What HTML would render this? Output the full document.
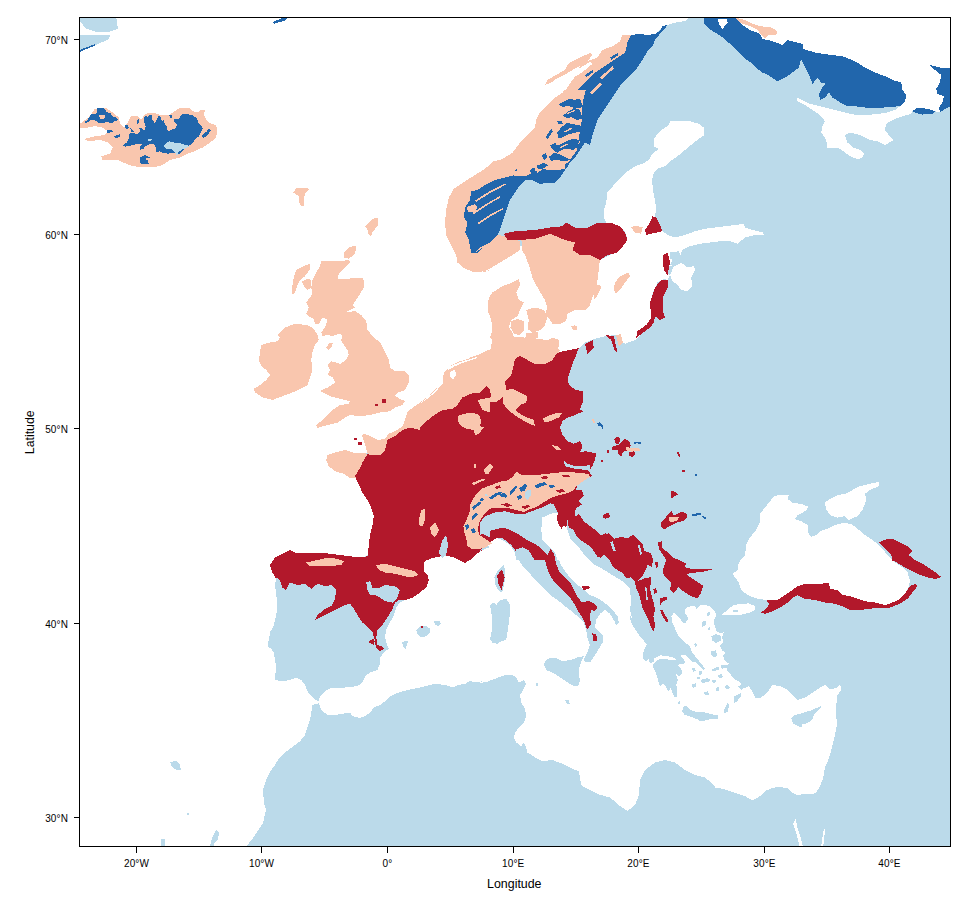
<!DOCTYPE html>
<html><head><meta charset="utf-8"><title>Map</title>
<style>
html,body{margin:0;padding:0;background:#fff;}
body{width:980px;height:900px;overflow:hidden;font-family:"Liberation Sans",sans-serif;}
svg{display:block}
text{font-family:"Liberation Sans",sans-serif;fill:#000}
</style></head><body>
<svg width="980" height="900" viewBox="0 0 980 900" shape-rendering="crispEdges">
<rect width="980" height="900" fill="#fff"/>
<defs><clipPath id="c"><rect x="79.5" y="17.5" width="871" height="829"/></clipPath></defs>
<g clip-path="url(#c)">
<path fill="#BBDAEA" d="M79,17 951,17 951,847 79,847Z"/>
<path fill="#FFFFFF" d="M79,17 690,17 685,21 676,22.5 663,26 650,40 615,72 597,100 570,135 540,172 480,200 475,235 500,247 522,246 532,262 545,292 552,315 556,319 562,322 562,352 545,366 530,369 520,364 500,364 485,361 470,361 473.8,358 457.5,362 450.5,367.5 448,373 445,383 440,393 432.5,400.5 425.5,405.5 446.2,381.2 440,388.8 432.5,396.2 422.5,403.8 413.8,410 410,413.8 407.5,421.2 405,427.5 397.5,432.5 391.2,435.5 387.5,440 380,441.5 370,438.8 365.5,440 367.5,445 368.8,453 362.5,454 352.5,453.5 345,451.5 335,453.5 328.5,456 327.5,460 330,465.8 335.5,470.5 344,473 350,476.5 356,475.5 359.5,485 363.5,492.5 368.5,500 372.2,507.5 374.8,516.2 373.5,525 371,535 369.8,545 368.5,555 360,558.5 350,557.2 340,556 330,554.8 320,553.5 307.5,553.5 295,553.5 290,551.5 282.5,554.8 275.5,558.5 271,565 273,572.5 275,577.5 276.2,577.5 275,585 276.2,595 277.5,605 276.2,615 273.8,625 270,632.5 268.8,640 267.5,646.2 271.2,648.8 273.8,652.5 275,660 276.2,667.5 275,676.2 275,680 282.5,681.2 290,680 296.2,677.5 301.2,680 305,685 307.5,691.2 311.2,696.2 315,700 318.8,701.2 320,703 312.5,705 311.2,712.5 310,720 307.5,727.5 305,735 300,741.2 295,745 290,748.8 285,752.5 280,757.5 276.2,762.5 275,765 270,772 266,780 263,790 264,803 266,810 263,823 253,838 246,847 79,847Z"/>
<path fill="#FFFFFF" d="M735,17 742.5,25 750,30 760,33.8 762.5,38.8 772.5,41.2 782.5,45 787.5,40 795,42 802.5,43.8 802.5,48.8 815,52.5 827.5,54.5 842.5,56.2 855,61.2 865,67.5 875,72.5 885,76.2 892.5,80 901.2,82.5 902.5,90 906.2,95 905,101.2 900,106.2 895,110 885,113 872.5,114.5 860,115.5 850,113.8 840,111.2 830,108.8 820,106.2 810,103.8 802.5,100 796.2,97.5 797.5,101.2 805,105 812.5,110 820,115 825,121.2 822.5,126.2 821.2,132.5 826.2,140 827.5,147.5 835,147.5 840,148.8 845,152.5 850,156.2 857.5,159.2 862.5,157.5 863.8,153.8 860,150 852.5,147.5 847.5,142.5 845,135 850,132.5 860,135 870,140 877.5,141.2 885,145 893.8,140 888.8,135 885,130 886.2,123.8 892.5,120 902.5,116.2 911.2,113.8 912.5,111.2 916.2,113 922.5,114.5 932.5,113.8 935,111.2 940,112.5 938.8,107.5 942.5,102.5 943.8,96.2 937.5,93.8 936.2,88.8 940,82.5 941.2,75 935,70 929.5,65 935,66.2 942.5,68 951.5,68 951.5,17Z"/>
<path fill="#FFFFFF" d="M653.8,138.8 660,131.2 668.8,125 670,121.2 680,121.2 690,121.2 698.8,123.8 703.8,127.5 704.5,135 698.8,138.8 692.5,143.8 685,150 677.5,156.2 670,161.2 665,166.2 657.5,168.8 653.8,172.5 652,180 653,190 655,200 656.2,208.8 655,216.2 660,225 662.5,231.2 667.5,235 675,237.5 685,235 695,231.2 705,228.8 715,227.5 725,226.2 735,225 743.8,223.8 745,227.5 752.5,230 762.5,232.5 765,235.5 755,235 745,237.5 737.5,243.8 730,241.2 720,241.2 710,242.5 700,243.8 690,246.2 682.5,250 680,256.2 672.5,260 670,265 675,266.2 681.2,262.5 687.5,267.5 693.8,266.2 695,270 691.2,277.5 692.5,286.2 687.5,291.2 681.2,290 677.5,285 672.5,281.2 670,275 667.5,280 663.8,278.8 657.5,282.5 653.8,290 650,302.5 651.2,315 653.8,322.5 650,327.5 642.5,332.5 635,340 625,343.8 620,340 615,335 605,336.2 595,338.8 585,342.5 577.5,350 570,353.8 560,352.5 557.5,353.8 545,360 532.5,363.8 526.2,358.8 532.5,347.5 542.5,342.5 552.5,337.5 560,325 568,312.5 575,308.8 585,309.5 590,305 592.5,297.5 596.2,290 597.5,280 597.5,270 600,260 610,255 620,250 625,242.5 625,245 627.5,237.5 623.8,230 617.5,225 606.2,222.5 603.8,217.5 603.8,210 606.2,202.5 607.5,192.5 613.8,185 621.2,177.5 627.5,171.2 635,166.2 642.5,163.8 648.8,160 652.5,153.8 658.8,148.8 653.8,146.2Z"/>
<path fill="#FFFFFF" d="M773.8,496.2 781.2,494.5 788.8,495 787.5,498.8 792.5,502.5 802.5,504.5 808.8,507 805,511.2 797.5,515.5 794.5,518.8 801.2,521.2 807.5,525 808,532.5 811.2,537 816.2,535 820,531.2 827.5,528.8 835,525 842.5,523 851.2,523.8 857.5,528.8 865,535 872.5,540 880,546.2 887.5,555 895,562.5 902.5,567.5 907.5,572.5 910,580 908.8,586.2 905,593.8 900,598.8 892.5,602.5 885,605 875,602.5 865,601.2 857.5,598.8 850,596.2 842.5,595 837.5,590 830,588.8 828.8,583.8 820,585 810,583.8 800,586.2 792.5,590 785,595 777.5,600 767.5,600 757.5,598.8 747.5,595 741.2,590 738.8,582.5 735,577.5 732.5,573.8 737.5,570 738.8,562.5 745,555 746.2,545 750,537.5 756.2,530 760,522.5 760,513.8 765,507.5 770,501.2Z"/>
<path fill="#FFFFFF" d="M825,502.5 830,498.8 837.5,495 845,493.8 852.5,490 860,486.2 870,483.8 878.8,482 878.8,486.2 870,490 865,493.8 866.2,500 862.5,510 857.5,516.2 852.5,518 848.8,520 845,516.2 837.5,517.5 831.2,515.5 826.2,510Z"/>
<path fill="#FFFFFF" d="M722,614.5 726.1,611.2 732.7,605.5 739.2,603.9 749,603.4 755.5,606.3 754.7,610.4 749,612.9 742.4,614.5 734.3,615.3 727.8,614.5Z"/>
<path fill="#FFFFFF" d="M793,823.8 795.5,819.2 797.5,827.5 800,835 803,847 799.5,847 797.5,837.5 795,828.8Z"/>
<path fill="#FFFFFF" d="M823.8,829.2 825.2,829.2 823.2,847 821,847Z"/>
<path fill="#FFFFFF" d="M318.8,701.2 320,696.2 325,691.2 331.2,688 337.5,687.5 345,687.5 352.5,687 360,685 363.8,680 365,676.2 370,672.5 377.5,670 380,663.8 380,657.5 383.8,652.5 388.8,648.8 386.2,642.5 385,636.2 386.2,630 390,622.5 393.8,615 396.2,607.5 400,602.5 405,600 412.5,597.5 420,592.5 426.2,587.5 428.8,580 427.5,575 423.8,571.2 423.8,563.8 425,561.2 430,558.8 437.5,557 445,555.5 452.5,557 460,560.5 465,563 470,560 475,555 482.5,550 490,547 485,545 495,537.5 502.5,540 510,545 515,552.5 516.2,560 518.8,560 523.8,567.5 530,573.8 536.2,581.2 542.5,587.5 550,595 557.5,600 565,606.2 570,610 577.5,616.2 583.8,622.5 586.2,630 587.5,637.5 590,645 587.5,652.5 583.8,658.8 585,662 590,662.5 595,655 598.8,648.8 602.5,642.5 602.5,635 598.8,631.2 595,627.5 596.2,620 600,613.8 605,610 610,613.8 613.8,620 616.2,625 618.8,622.5 617.5,616.2 613.8,611.2 608.8,606.2 602.5,601.2 596.2,597.5 590,595 582.5,588.8 576.2,583.8 570,577.5 565,571.2 561.2,565 558.8,560 557.5,560 555,552.5 547.5,545 542.5,540 541.2,530 542.5,517.5 550,513.8 557.5,512.5 558.8,522.5 566.2,527.5 567.5,520 567,528.8 570.5,538.8 578,546.2 585.5,556.2 593,563.8 601.2,568 612,575 623,581.5 630,588.8 630,591.2 631.2,600 630,610 632.5,620 629.8,614.5 630.6,621 633.1,625.9 636.3,630.8 639.6,635.7 643.7,640.6 646.9,644.7 644.5,648.8 642.9,653.7 642.9,658.6 646.1,661.8 648.6,659.4 650.2,663.5 653.5,661.8 654.3,658.6 660.8,655.3 667.3,656.1 673.9,657.8 676.3,660.2 672.2,660.2 667.3,659.4 660.8,658.6 655.1,661.8 652.7,665.1 654.3,670 656.7,674.9 658.4,681.4 660,686.3 663.3,683.9 665.7,686.3 668.2,692 670.6,688 672.2,692 674.7,697.8 677.1,696.9 677.1,691.2 676.3,684.7 678,679.8 675.5,673.3 678.8,676.5 682,673.3 681.2,668.4 678,665.1 679.6,663.5 682.9,664.3 685.3,661.8 682.9,658.6 680.4,655.3 685.3,654.5 688.6,658.6 691.8,661.8 695.1,661.8 699.2,665.9 703.3,670 704.9,668.4 701.6,664.3 698.4,660.2 695.1,656.1 691.8,652 690.2,647.1 686.9,643.9 682.9,640.6 679.6,637.3 677.1,633.3 674.7,627.6 672.2,622.7 671.4,616.1 673.9,612.9 677.1,616.1 681.2,620.2 685.3,621.8 688.6,619.4 686.9,616.1 684.5,612 686.1,608 690.2,606.3 694.3,605.5 696.7,608.8 700,605.5 704.9,604.7 709.8,606.3 714.7,611.2 716.3,615.3 713.9,620.2 714.7,625.9 716.3,630.8 719.6,633.3 723.7,632.4 722,637.3 723.7,642.2 719.6,645.5 722,650.4 726.1,652.9 722.9,655.3 724.5,660.2 728.6,663.5 726.1,666.7 727.8,671.6 731,674.9 734.3,679 739.2,681.4 741.6,684.7 737.6,686.3 740.8,689.6 741.6,693.7 739.2,691.2 744.1,688 749,686.3 752.2,691.2 755,697.5 761.2,697.5 767.5,692.5 772.5,685 780,686.2 787.5,690 792.5,695 797.5,700 805,697.5 812.5,692.5 820,687.5 825,685 830,689.5 837.5,687.5 840,683.8 841.2,690 837.5,695 836.2,705 836.2,715 837,725 835,735 832.5,745 830,755 826.2,765 825,767.5 823,778.8 820,786.2 816.2,792.5 811.2,794.5 803.8,793.8 797.5,795.5 792.5,792.5 787.5,788 777.5,787 770,788.8 765,791.2 760,796.2 752.5,800.5 745,796.2 737.5,793.8 730,791.2 722.5,788.8 715,787.5 715,786 705,777.5 695,775 685,770 675,762.5 665,760 655,762.5 645,770 640,780 639,795 635,805 627.5,811 620,806 610,797.5 597.5,794 585,787.5 581.2,785 578.8,771.2 572.5,768.8 562.5,763.8 552.5,760 542.5,761.2 535,757.5 527.5,752.5 526.2,747.5 523.8,742.5 521.2,746.2 516.2,742.5 513.8,737.5 515,732.5 518.8,727.5 523.8,722.5 526.2,716.2 525,708.8 521.2,702.5 520,695 523.8,688.8 526.2,683.8 523.8,680 518.8,682.5 516.2,677.5 511.2,674.5 505,675 495,678.8 485,682.5 477.5,680 470,681.2 490,683.8 482.5,682.5 477.5,680 470,681.2 465,683.8 457.5,685 452.5,687.5 445,685 435,683.8 430,685 420,687.5 410,689.5 402.5,691.2 395,693.8 388.8,697.5 385,701.2 380,705 373.8,707.5 370,712.5 365,716.2 360,718 352.5,716.2 350,712.5 342.5,713.8 335,715 327.5,715 322.5,711.2 320,707.5 318.8,702.5Z"/>
<path fill="#BBDAEA" d="M79.5,17.5 116.2,17.5 118,28.8 110,31.5 95,31.5 85,28 81.2,22.5 79.5,21.2Z"/>
<path fill="#BBDAEA" d="M79.5,35 110,35 109,39 95,45.5 79.5,52Z"/>
<path fill="#BBDAEA" d="M732.7,609.9 737.9,609.6 737.9,611.9 732.7,612Z"/>
<path fill="#BBDAEA" d="M416.2,630 420,626.2 426.2,626.2 430,628.8 430.5,632.5 426.2,636.2 421.2,637.5 417.5,633.8Z"/>
<path fill="#BBDAEA" d="M434.2,621.2 438.8,620.5 441.2,623.8 438.8,626.2 435,624.5Z"/>
<path fill="#BBDAEA" d="M402,642.5 405,640.5 408,641.2 407,645 405.5,649.5 403,646.2Z"/>
<path fill="#BBDAEA" d="M494.5,577.5 497.5,571.2 503.8,565 505.5,572.5 504.5,582.5 502,592.5 498,590 495,583.8Z"/>
<path fill="#BBDAEA" d="M490,605 493.8,602.5 496.2,605 500,600 506.2,598.8 509.5,603.8 510,612.5 508.8,622.5 507.5,632.5 506.2,640 501.2,641.2 497.5,643.8 492.5,642.5 490,638.8 492,630 492.5,620 491.2,612.5Z"/>
<path fill="#BBDAEA" d="M543.8,663.8 547.5,658.8 555,657.5 562.5,661.2 570,660 577.5,657.5 583.8,656.2 581.2,661.2 579.5,667.5 578.8,675 580,680 578,686.2 573.8,686.2 567.5,682.5 560,677.5 552.5,672.5 546.2,670Z"/>
<path fill="#BBDAEA" d="M564.5,699.5 568.8,700 570,704.5 567,703.8Z"/>
<path fill="#BBDAEA" d="M535.5,683 538,683 538,685.5 535.5,685.5Z"/>
<path fill="#BBDAEA" d="M682,710.8 683.7,706.7 686.1,705.9 690.2,710 695.1,711.6 701.6,711.6 708.2,713.3 714.7,714.9 718,714.9 717.6,719 711.4,719 704.9,720.6 700.8,721.4 696.7,719 690.2,716.5 684.5,714.9Z"/>
<path fill="#BBDAEA" d="M791.2,718 795,715 800,713.8 805,712 811.2,710.5 817.5,707.5 822,705.5 818.8,710 813.8,714.5 812.5,719.5 807.5,723 802.5,724.5 801.2,727.5 797.5,725.5 793,723.8Z"/>
<path fill="#BBDAEA" d="M701.6,621.8 705.7,621 706.5,625.1 702.4,626.7Z"/>
<path fill="#BBDAEA" d="M711.4,636.5 716.3,634.1 720.4,635.7 721.2,640.6 716.3,643.1 712.2,640.6Z"/>
<path fill="#BBDAEA" d="M711.4,651.2 715.5,650.4 717.1,655.3 713.9,657.8 711.4,655.3Z"/>
<path fill="#BBDAEA" d="M721.2,665.1 726.9,664.8 726.9,668 721.6,668.7Z"/>
<path fill="#BBDAEA" d="M691.8,668.4 694.3,667.6 695.9,670.8 693.5,671.6Z"/>
<path fill="#BBDAEA" d="M698.4,671.6 701.6,670.8 702.4,674.1 699.2,674.9Z"/>
<path fill="#BBDAEA" d="M701.6,679.8 706.5,678.2 710.6,679 709,681.4 703.3,683.1 700.8,682.2Z"/>
<path fill="#BBDAEA" d="M691.8,684.7 695.9,683.1 696.7,686.3 692.7,688Z"/>
<path fill="#BBDAEA" d="M711.4,670 718,666.7 719.6,669.2 713.9,671.6Z"/>
<path fill="#BBDAEA" d="M715.5,688 718.8,687.1 719.6,690.4 716.3,691.2Z"/>
<path fill="#BBDAEA" d="M724.5,686.3 727.8,684.7 730.2,688 726.1,689.6Z"/>
<path fill="#BBDAEA" d="M718,674.9 722,674.1 722.9,677.3 718.8,678.2Z"/>
<path fill="#BBDAEA" d="M704.1,692 708.2,691.2 709,694.5 704.9,695.3Z"/>
<path fill="#BBDAEA" d="M694.3,643.9 695.9,642.2 697.1,645.5 695.1,646.8Z"/>
<path fill="#BBDAEA" d="M706.5,612.9 709.8,612 710.1,615.3 706.9,615.8Z"/>
<path fill="#BBDAEA" d="M734.3,696.1 737.6,694.5 741.6,692.9 740.8,696.1 736.7,701.8 734.3,702.7Z"/>
<path fill="#BBDAEA" d="M724.5,709.2 727.8,702.7 729.1,704.3 727.8,711.6 723.7,713.3Z"/>
<path fill="#BBDAEA" d="M678,701.8 680.1,701.3 680.4,703.5 678.4,703.8Z"/>
<path fill="#BBDAEA" d="M681.2,618.6 684.5,619.4 686.1,622.7 683.7,623.5 681.7,621.8Z"/>
<path fill="#BBDAEA" d="M708.2,627.6 710.1,627.2 710.4,629.5 708.3,629.8Z"/>
<path fill="#BBDAEA" d="M711.4,680.6 714.7,679.5 716.3,681.4 713.1,683.4Z"/>
<path fill="#BBDAEA" d="M696.7,677.3 700,676.5 700.3,679 697.1,679.5Z"/>
<path fill="#BBDAEA" d="M161,839 165,839 165,847 161,847Z"/>
<path fill="#BBDAEA" d="M213,836 216,830 219,832 218,840 214,843 214,847 210,847 211,842Z"/>
<path fill="#BBDAEA" d="M170,762 176,761 180,765 181,770 177,770 172,767Z"/>
<path fill="#BBDAEA" d="M187,813 189,813 189,815 187,815Z"/>
<path fill="#BBDAEA" d="M670,252.5 678.8,251.2 681.2,256.2 675,260.5 670,258.8Z"/>
<path fill="#BBDAEA" d="M666.2,265 673.8,266.2 670,275 666.2,272.5Z"/>
<path fill="#F9C6AE" d="M79.5,124 88.8,117.5 95,108.8 105,107.5 112.5,112.5 118.8,117.5 120,123.8 123.8,127.5 126.2,125 131.2,116.2 137.5,116.2 141.2,120 145,113.8 152.5,112.5 160,115 168.8,115 172.5,112.5 180,107.5 188.8,107.5 192.5,111.2 197.5,112.5 201.2,110 205,110 203.8,113.8 206.2,120 211.2,123.8 216.2,125 217.5,132.5 215,138.8 210,142.5 202.5,147.5 195,151.2 187.5,153.8 180,157.5 170,160 162.5,165 152.5,167.5 142.5,167 132.5,166.2 126.2,163.8 117.5,160 102.5,160 101.2,156.2 110,153.8 112.5,147.5 107.5,142.5 100,140 87.5,141.2 84.5,138.8 95,136.2 105,135 107.5,131.2 102.5,127.5 95,126.2 85,128 79.5,127.5Z"/>
<path fill="#F9C6AE" d="M293.2,192.5 296.2,188 307.5,187.5 308.8,190 305,193.8 303.8,200 304.5,206.2 301.2,206.2 298.8,201.2 299.5,196.2 296.2,194.5Z"/>
<path fill="#F9C6AE" d="M365,226.2 370,221.2 375,217.5 377.5,217.5 377.5,226.2 375,228.8 372.5,232.5 371.2,236.2 368.8,235 367.5,230Z"/>
<path fill="#F9C6AE" d="M343.8,252.5 350,247 356.2,245.5 356.2,250 353.8,255 348.8,258.8 344.5,257.5Z"/>
<path fill="#F9C6AE" d="M296.2,270 303.8,266.2 309.5,263.8 309.5,270 305,276.2 300,280 297.5,285 295,292.5 292,294.5 292.5,285 293.8,277.5Z"/>
<path fill="#F9C6AE" d="M302,281.2 307.5,278.8 311.2,280 311.2,287.5 307.5,290 303.8,286.2Z"/>
<path fill="#F9C6AE" d="M326.2,347.5 330,342.5 333,342.5 331.2,347.5 328,350Z"/>
<path fill="#F9C6AE" d="M277.5,335 285,327.5 295,323.8 307.5,325 313.8,328.8 317.5,335 318.8,340 315,345 312.5,352.5 311.2,360 312.5,370 310,377.5 307.5,385 300,388.8 292.5,392.5 282.5,396.2 272.5,400 262.5,397.5 255,392.5 253.8,388.8 260,385 266.2,380 270,375 266.2,370 261.2,366.2 258.8,360 260,352.5 261.2,345 270,342.5 277.5,341.2 280,337.5Z"/>
<path fill="#F9C6AE" d="M321.2,261.2 345,260.5 348.8,260 350,262 346.2,266.2 341.2,271.2 337.5,276.2 338,278.8 362.5,278.2 364.5,281.2 363.8,287.5 360,293.8 356.2,300 352.5,305 355,307.5 350,310 346.2,312 355,311.2 361.2,315 366.2,321.2 367.5,330 372.5,336.2 380,342.5 385,352.5 388.8,360 390,367.5 395,371.2 405,371.2 408.8,375 409.5,381.2 407.5,385 405,390 397.5,392.5 395,396.2 400,398.8 405,401.2 402.5,405 395,407.5 390,411.2 380,412.5 370,415 360,416.2 350,415 345,417.5 337.5,422.5 327.5,425 317.5,428 316.2,425 322.5,420 327.5,415 332.5,410 340,405 348.8,403.8 350,401.2 340,398.8 330,396.2 320,391.2 327.5,387.5 335,382.5 332.5,377.5 327.5,375 330,370 327.5,365 331.2,361.2 340,363.8 345,361.2 348.8,355 347.5,350 343.8,345 341.2,340 342.5,335 338.8,333.8 332.5,336.2 327.5,335 322.5,336.2 321.2,332.5 325,327.5 327.5,320 322.5,317.5 318.8,323.8 315,323.8 313.8,318.8 308.8,316.2 306.2,313.8 308.8,307.5 306.2,302.5 310,297.5 312.5,292.5 311.2,287.5 312.5,280 316.2,272.5 320,266.2Z"/>
<path fill="#F9C6AE" d="M327.5,455 335,452.5 345,450 352.5,452.5 362.5,453 368.8,453.8 365,462.5 360,470 356.2,477.5 350,478 343.8,473.8 335,471.2 328.8,466.2 326.2,460Z"/>
<path fill="#F9C6AE" d="M630,35 622.5,35 620,41.2 612.5,46.2 602.5,50 597.5,57.5 590,60 587.5,61.2 580,66.2 576.2,75 572.5,80 567.5,87.5 562.5,92.5 555,97.5 547.5,105 540,112.5 536.2,120 535,127.5 527.5,135 520,142.5 512.5,152.5 505,157.5 500,160 493.8,161.2 485,168.8 475,175 465,181.2 453.8,188.8 448.8,197.5 446.2,210 445,222.5 446.2,235 451.2,245 456.2,255 457.5,262.5 465,268.8 475,272.5 485,272 490,270 477.5,272.5 487.5,270 500,262.5 512.5,255 520,250 520,241.2 505,236.2 497.5,235 500,230 502.5,222.5 505,215 507.5,207.5 510,200 515,192.5 520,185 525,180 532.5,180 540,183.8 555,182.5 560,177.5 565,170 570,162.5 575,157.5 580,150 585,142.5 590,145 592.5,135 595,127.5 597.5,120 602.5,112.5 607.5,105 612.5,97.5 617.5,90 622.5,82.5 630,75 637.5,67.5 642.5,60 647.5,51.2 652.5,46.2 655,40 660,33.8 665,28.8 667.5,25 662.5,26.2 660,31.2 655,33.8 647.5,35 640,33.8 631.2,35Z"/>
<path fill="#F9C6AE" d="M545,85 547.5,80 555,75.5 565,70 568.8,63 580,57.5 590,53 592.5,55 587.5,61.2 580,66.2 572.5,70 565,74.5 557.5,78 551.2,82.5Z"/>
<path fill="#F9C6AE" d="M733.8,17 745,20 752.5,23.8 760,26.2 771.2,27.5 777.5,31.2 776.2,35 768.8,35 765,38.8 761.2,35 757.5,30 750,26.2 742.5,23.8 735,21.2Z"/>
<path fill="#F9C6AE" d="M520,236.2 535,233.8 550,230 570,237.5 580,245 590,250 600,257.5 598.8,270 597.5,280 596.2,290 592.5,297.5 590,305 585,310 575,310 567.5,313.8 566.2,321.2 560,323.8 552.5,323.8 550,320 545,313.8 547.5,307.5 545,300 541.2,293.8 536.2,285 532.5,277.5 528.8,265 525,255 521.8,250 521.8,242.5Z"/>
<path fill="#F9C6AE" d="M595,286.2 600,284.5 601.2,287.5 596.2,297.5 593.8,300Z"/>
<path fill="#F9C6AE" d="M615,282.5 620,276.2 628.8,272.5 630,276.2 625,282.5 620,290 615,293.8 613.8,287.5Z"/>
<path fill="#F9C6AE" d="M631.2,227.5 635,225.5 642.5,227.5 641.2,233.8 635,232.5Z"/>
<path fill="#F9C6AE" d="M488.8,297.5 492.5,292.5 502.5,286.2 512.5,282.5 518.8,278.8 520,285 516.2,292.5 518.8,300 523.8,302.5 520,310 517.5,316.2 511.2,320 508.8,327.5 512.5,332.5 513.8,340 520,345 527.5,345 523.8,350 532.5,347.5 542.5,342.5 552.5,337.5 558.8,340 558.8,346.2 555,352.5 542.5,362.5 532.5,365 523.8,360 516.2,356.2 511.2,365 507.5,372.5 507.5,380 500,385 490,387.5 485,385 480,387.5 470,387.5 470,357.5 477.5,355 485,356.2 493.8,355 497.5,347.5 493.8,342.5 490,337.5 492.5,330 491.2,320 487.5,310Z"/>
<path fill="#F9C6AE" d="M511.2,321.2 517.5,318.8 523.8,321.2 524.5,330 520,335 513.8,333.8 510.5,327.5Z"/>
<path fill="#F9C6AE" d="M526.2,310 535,307.5 543.8,310 547.5,316.2 545,325 540,330 532.5,332.5 527.5,328.8 528.8,320Z"/>
<path fill="#F9C6AE" d="M526.2,333 537.5,332 538,338 530,340 525.5,337.5Z"/>
<path fill="#F9C6AE" d="M616.2,335.5 620.5,334 623,342.5 619,347Z"/>
<path fill="#F9C6AE" d="M492.5,330 491.2,348.8 477.5,355 465,360 457.5,362 450,366 445,371 443.8,373 442.5,383.8 435,392.5 427.5,398.8 420,403.8 437.5,387.5 430,395 420,402.5 411.2,408.8 407.5,412.5 405,420 402.5,426.2 395,431.2 388.8,433.8 385,438.8 377.5,440 370,436.2 365,433.8 362,435 364.5,442.5 367,452.5 370,457.5 385,457.5 405,445 425,437.5 440,440 470,430 500,420 520,400 545,380 560,350 548,340 500,335Z"/>
<path fill="#F9C6AE" d="M571.4,326.3 574.7,325.2 577.5,327.1 576.8,330.1 573.1,330.4Z"/>
<path fill="#B2182B" d="M382,398.8 385.5,398.8 385.5,402.5 382,402.5Z"/>
<path fill="#B2182B" d="M375,403.8 378,403.8 378,406.2 375,406.2Z"/>
<path fill="#B2182B" d="M358,442 361.5,442 361.5,445 358,445Z"/>
<path fill="#B2182B" d="M354,438 356.5,438 356.5,440 354,440Z"/>
<path fill="#B2182B" d="M420.5,625.5 423,625.5 423,628 420.5,628Z"/>
<path fill="#B2182B" d="M497,575.5 502,569.5 504.5,577.5 501.5,589.5 498.5,584Z"/>
<path fill="#B2182B" d="M275,577.5 272.5,572.5 270,565 275,557.5 282.5,553.8 290,550 295,552.5 307.5,552.5 320,552.5 330,553.8 340,555 350,556.2 360,557.5 367.5,556.2 368.8,545 370,535 372.5,525 373.8,516.2 371.2,507.5 367.5,500 362.5,492.5 358.8,485 355,476.2 358.8,470 362.5,462.5 367.5,453.8 370,455 380,455 385,450 387.5,440 395,436.2 402.5,430 410,427.5 420,430 420,427.5 425,422.5 432.5,416.2 442.5,410 452.5,408.8 457.5,405 462.5,397.5 470,393.8 480,392.5 486.2,386.2 490,390 491.2,396.2 487.5,401.2 495,402.5 502.5,397.5 506.2,390 505,381.2 511.2,375 513.8,365 515,358.8 520,356.2 527.5,360 535,363.8 545,363.8 552.5,360 556.2,353.8 562.5,351.2 570,350 578.8,348 576.2,355 572.5,363.8 570,371.2 567.5,380 570,386.2 576.2,390 582.5,391.2 582.5,402.5 580,410 583.8,411.2 575,415 567.5,417.5 562.5,421.2 560,427.5 562.5,435 567.5,441.2 573.8,443.8 580,441.2 582.5,446.2 580,452.5 585,451.2 592.5,452.5 595,457.5 592.5,463.8 585,466.2 575,466.2 567.5,463.8 563.8,460 565,466.2 575,468.8 587.5,470 592.5,476.2 582.5,478.8 577.5,482.5 576.2,490 580,495 575,497.5 567.5,495 565,500 570,505 575,510 575,530 568.8,527.5 567.5,520 566.2,527.5 558.8,522.5 557.5,512.5 552.5,502.5 545,506.2 535,510 525,513.8 515,513.8 505,511.2 495,512.5 485,516.2 480,522.5 480,535 485,532.5 492.5,530 502.5,527.5 510,530 517.5,533.8 525,538.8 532.5,542.5 540,547.5 547.5,555 550.5,548.8 554.2,554.3 556,563.5 559.7,572.7 565.2,578.2 569.8,581.8 573.5,589.2 577.1,596.5 581.7,602 589.1,601.1 594.6,603.9 597.4,607.6 594.6,611.2 590.9,609.4 590,616.7 590.9,624.1 587.2,629.6 584.5,622.3 581.7,616.7 578.1,611.2 574.4,603.9 570.7,598.4 565.2,592.9 559.7,587.4 554.2,581.8 549.6,574.5 546.8,567.1 545,559.8 534.6,560 531.5,554.9 528.5,550.3 522.4,547.2 516.2,549.5 515.5,550.6 511.6,545.3 507,541.4 502.5,538.4 497.9,537.6 493.3,539.9 485.6,546 478,552.1 482.5,550 475,555 470,560 465,563 460,560.5 452.5,557 445,555.5 437.5,557 430,558.8 425,561.2 423.8,563.8 423.8,571.2 427.5,575 428.8,580 426.2,587.5 420,592.5 412.5,597.5 405,600 398.8,600 395,602.5 392.5,608.8 387.5,617.5 382.5,625 377.5,630 376.2,637.5 377.5,645 381.2,646.2 383.8,648.8 380,651.2 376.2,647.5 373.8,638.8 370,640 368.8,642.5 373.8,645 375,640 372.5,632.5 367.5,627.5 362.5,622.5 357.5,615 353.8,608.8 350,603.8 345,605 337.5,608.8 330,612.5 320,617.5 315,620 317.5,615 325,608.8 331.2,606.2 335,598.8 336.2,590 331.2,585 325,586.2 317.5,583.8 311.2,588.8 305,583.8 297.5,585 290,582.5 286.2,590 282.5,587.5 280,580 276.2,577.5Z"/>
<path fill="#B2182B" d="M503.8,233.8 515,231.2 535,230 550,227.5 562.5,226.2 566.2,222.5 575,227.5 587.5,227.5 597.5,222.5 610,222.5 620,226.2 625,232.5 627.5,240 623.8,245 617.5,252.5 607.5,255 600,260 590,255 580,255 572.5,250 575,242.5 565,240 550,233.8 535,238.8 520,240 507.5,240Z"/>
<path fill="#B2182B" d="M645,230 650,222.5 652.5,216.2 656.2,217.5 660,225 662.5,231.2 657.5,232.5 650,233.8 646.2,235Z"/>
<path fill="#B2182B" d="M650,302.5 655,287.5 661.2,280 667.5,280 667.5,287.5 662.5,297.5 662.5,310 665,317.5 660,320 655,316.2 653.8,322.5 650,327.5 642.5,333 636.2,338 637.5,331.2 646.2,325 651.2,317.5Z"/>
<path fill="#B2182B" d="M585,343.8 592.5,340 593.8,347.5 587.5,353.8Z"/>
<path fill="#B2182B" d="M605,335 613.8,336 617.5,352.5 614.5,350 611.2,340Z"/>
<path fill="#B2182B" d="M662.5,255 667.5,252.5 670,262.5 667.5,275 663.8,270Z"/>
<path fill="#B2182B" d="M766.2,600 777.5,600 785,595 792.5,590 797.5,586.2 805,583.8 820,583.8 828.8,583 830,588.8 837.5,590 842.5,595 850,596.2 857.5,598.8 865,601.2 875,602.5 885,605 892.5,602.5 900,598.8 905,593.8 910,586.2 915,583.8 917.5,586.2 912.5,592.5 907.5,598.8 900,603.8 890,607.5 880,607.5 870,608.8 860,610 850,610 842.5,606.2 835,603.8 825,602.5 815,600 805,598.8 797.5,595 792.5,597.5 787.5,602.5 780,607.5 772.5,611.2 765,613.8 761.2,612.5 767.5,607.5 768.8,603.8Z"/>
<path fill="#B2182B" d="M878.8,542.5 887.5,538.8 893.8,539.5 900,542.5 907.5,546.2 912.5,551.2 908.8,555 915,560 922.5,563.8 930,568.8 937.5,573.8 941.2,577 935,579 927.5,577.5 920,575 912.5,571.5 905,567.5 897.5,563 892.5,560.5 891.2,555 885,548.8Z"/>
<path fill="#B2182B" d="M545,499.2 552.3,501 559.7,497.3 563.4,493.7 568.9,490 581.7,490 583.6,495.5 578.1,501 581.7,504.7 576.2,508.4 574.4,513.9 577.1,519.4 581.7,524.9 587.2,528.6 592.8,531.3 597.4,534.1 600.1,539.6 601.9,545.1 600.1,552.5 598.3,558 594.6,552.5 590.9,546.9 585.4,543.3 579.9,539.6 575.3,534.1 572.6,528.6 569.8,523.1 567,519.4 564.3,523.1 561.5,528.6 557.9,523.1 556.9,517.6 558.8,510.2 556,504.7 548.7,502.9 545,501.9Z"/>
<path fill="#B2182B" d="M600.1,535.9 605.6,533.2 611.1,539.6 618.5,537.8 625.8,539.6 631.3,535.9 636.8,539.6 640.5,545.1 642.4,552.5 647.9,554.3 652.5,559.8 651.5,565.3 646.9,563.5 645.1,569 640.5,572.7 636.8,578.2 633.2,580 630.4,575.4 625.8,576.3 622.1,570.8 618.5,569 614.8,563.5 613,556.1 608.4,550.6 603.8,545.1Z"/>
<path fill="#B2182B" d="M635,581.8 640.5,580 645.1,578.2 650.6,577.3 651.5,581.8 649.7,587.4 651.5,594.7 653.4,602 655.2,609.4 653.4,616.7 655.2,625.9 653.4,631.4 650.6,625.9 647.9,618.6 645.1,613.1 642.4,607.6 640.5,600.2 638.7,592.9 635.9,587.4Z"/>
<path fill="#B2182B" d="M659.8,609.4 662.6,610.3 668.1,620.4 667.2,623.2 662.6,616.7Z"/>
<path fill="#B2182B" d="M658,542.4 661.6,541.4 662.6,548.8 668.1,552.5 673.6,558 680.9,560.7 686.4,563.5 684.6,567.1 692,569 703,569 712.2,569.4 703,571.7 693.8,572.7 688.3,573.6 684.6,576.3 690.1,580 697.5,583.7 703,586.4 701.1,592.9 697.5,597.5 692,594.7 686.4,591 681.8,587.4 678.2,583.7 677.3,589.2 673.6,592.9 669.9,589.2 671.7,583.7 668.1,580 664.4,576.3 662.6,570.8 664.4,565.3 666.2,559.8 662.6,554.3 658.9,548.8Z"/>
<path fill="#B2182B" d="M660.7,523.1 664.4,519.4 668.1,513.9 671.7,511.1 673.6,515.7 680.9,512 686.4,513 687.4,517.6 682.8,521.2 677.3,522.1 672.7,524.9 668.1,526.7 664.4,529.5 660.7,526.7Z"/>
<path fill="#B2182B" d="M670.8,490.9 673.6,490.9 678.2,494.6 673.6,496.4 671.7,499.2 670.8,495.5Z"/>
<path fill="#B2182B" d="M603.8,513.9 608.4,513 610.2,516.6 605.6,517.6 603.4,518.5Z"/>
<path fill="#B2182B" d="M581.7,586.4 589.1,585.5 590,588.3 583.6,590.1Z"/>
<path fill="#B2182B" d="M592.4,633.3 596.4,634.2 596.8,640.6 593.1,641.5Z"/>
<path fill="#B2182B" d="M597.4,533.2 603.8,535.9 608.4,533.2 613.9,538.7 622.1,536.8 627.7,538.7 633.2,535 636.8,538.7 642.4,543.3 644.2,550.6 650.6,553.4 653.4,559.8 651.5,567.1 647.9,564.4 645.1,570.8 642.4,576.3 638.7,580 635,581.8 631.3,577.3 626.7,578.2 622.1,572.7 618.5,570.8 613,567.1 609.3,559.8 603.8,554.3 600.1,558 594.6,550.6 598.3,545.1Z"/>
<path fill="#B2182B" d="M579,513.9 583.6,521.2 590.9,526.7 598.3,532.2 600.1,537.8 596.4,545.1 589.1,545.1 581.7,539.6 576.2,534.1 570.7,526.7 572.6,519.4Z"/>
<path fill="#B2182B" d="M671.7,570.8 677.3,570.8 684.6,573.6 692,578.2 703,585.5 701.1,592.9 697.5,598.4 690.1,595.6 682.8,591 677.3,585.5 671.7,585.5 669.9,578.2Z"/>
<path fill="#B2182B" d="M655.2,562.6 657.4,561.6 658.2,567.1 655.9,568.1Z"/>
<path fill="#B2182B" d="M653.4,589.2 656.1,588.3 657,592.9 654.5,593.8Z"/>
<path fill="#B2182B" d="M659.8,598.4 666.2,596.5 667.2,599.3 662.6,602 660.4,604.8Z"/>
<path fill="#B2182B" d="M602.5,515 608.8,513.8 610,517 605,518.8Z"/>
<path fill="#B2182B" d="M614.3,439 617.8,436.4 620.4,439 618.6,444.2 615.2,443.4Z"/>
<path fill="#B2182B" d="M611.7,446.8 619.5,444.2 624.7,439 629,440.8 630.8,446 627.3,450.3 623,452 621.2,456.4 618.6,454.6 617.8,450.3 612.5,450.3Z"/>
<path fill="#B2182B" d="M629,452 634.2,451.2 635.4,454.6 631.6,457.2 629.5,455.5Z"/>
<path fill="#B2182B" d="M606.5,450.3 608.7,450 608.7,452.9 606.7,452.9Z"/>
<path fill="#B2182B" d="M676.7,451.7 678.8,452 680.5,456.9 678.5,456.4Z"/>
<path fill="#B2182B" d="M681.9,470.1 685.1,470.1 685.1,472.2 682.3,472.2Z"/>
<path fill="#B2182B" d="M600.8,460 602.8,460 602.8,461.8 600.8,461.8Z"/>
<path fill="#B2182B" d="M590,453.8 596.1,452.9 595.2,459 592.6,465.9 590,469.4Z"/>
<path fill="#F9C6AE" d="M669,517.6 673.6,516.6 679.1,517.6 677.3,520.3 671.7,522.1 669,521.2Z"/>
<path fill="#F9C6AE" d="M457.5,416.2 463.8,413.8 472.5,412.5 478.8,415 481.2,420 480,426.2 483.8,427.5 478.8,433.8 475,435 473.8,430 466.2,428.8 460,425 457.5,420Z"/>
<path fill="#F9C6AE" d="M506.2,390 512.5,388.8 520,392.5 527.5,396.2 526.2,402.5 520,405 515,410 520,413.8 527.5,417.5 533.8,420 535,426.2 530,423.8 522.5,420 516.2,416.2 511.2,412.5 506.2,407.5 502.5,402.5 502.5,396.2Z"/>
<path fill="#F9C6AE" d="M542.5,418.8 550,415 557.5,412.5 562.5,412.5 558.8,417.5 550,421.2 545,422.5Z"/>
<path fill="#F9C6AE" d="M551.2,445 557.5,446.2 561.2,450 556.2,450Z"/>
<path fill="#F9C6AE" d="M376.2,565 385,563.8 395,566.2 405,568.8 415,571.2 418.8,575 410,577.5 405,576.2 395,573.8 385,572.5 378.8,570Z"/>
<path fill="#F9C6AE" d="M306.2,562.5 317.5,560 327.5,557.5 337.5,558.8 343.8,561.2 341.2,565 330,566.2 320,566.2 310,566.2Z"/>
<path fill="#F9C6AE" d="M418.8,520 421.2,510 425,508.8 425,520 422.5,526.2 418.8,525Z"/>
<path fill="#F9C6AE" d="M430,527.5 435,522.5 438.8,530 435,537.5 431.2,533.8Z"/>
<path fill="#F9C6AE" d="M477.5,400 490,397.5 490,412.5 482.5,410Z"/>
<path fill="#F9C6AE" d="M467.2,545.7 466.5,539.6 464.2,531.9 463.4,525.8 466.5,519.7 469.5,512 470.3,504.4 473.4,498.3 478,492.1 482.6,488.3 488.7,486 494.8,483.7 500.9,481.4 507,480.7 513.2,476.8 516.2,471.5 520.8,474.5 526.9,475.3 534.6,474.5 540.7,474.5 546.8,473.8 554.5,473 562.1,472.2 571.3,472.2 580.5,473 588.2,473.8 589.7,476.8 585.1,479.9 580.5,483 575.9,486.8 572.9,490.6 568.3,492.9 562.1,494.4 554.5,496.7 549.9,498.3 545.3,501.3 540.7,504.4 534.6,507.5 528.5,509.7 523.9,512 517.8,510.5 511.6,509 505.5,507.5 499.4,508.2 493.3,507.5 488.7,509.7 484.8,513.6 481,518.9 478.7,524.3 478,530.4 479.5,535 484.1,538.1 488.7,541.1 491.7,543.4 485.6,547.2 478,549.5 471.8,548.8Z"/>
<path fill="#F9C6AE" d="M483.3,469.9 490.2,463.8 493.3,466.9 487.9,474.5 485.6,473.8Z"/>
<path fill="#F9C6AE" d="M471.8,483 484.1,478.4 484.8,479.9 473.4,485.3Z"/>
<path fill="#F9C6AE" d="M474.1,464.6 476.4,463.8 476.4,468.4 474.6,468.4Z"/>
<path fill="#F9C6AE" d="M625.6,447.2 640.3,448.6 640.3,450.7 631.6,451.7 626.1,450.3Z"/>
<path fill="#F9C6AE" d="M591.7,419.4 593.8,419.4 595.2,422.5 593.1,422.9Z"/>
<path fill="#2166AC" d="M79.5,50 95,44 95,45.5 79.5,52Z"/>
<path fill="#2166AC" d="M272.5,22 282.5,18 286.5,18.5 285,20.5 273.8,23.8Z"/>
<path fill="#2166AC" d="M692,513.9 701.1,513.1 701.5,515.3 692,515.7Z"/>
<path fill="#2166AC" d="M701.1,515.7 705.7,517.2 706.3,519.4 703,517.9Z"/>
<path fill="#2166AC" d="M471.2,252.5 468.8,240 465,232.5 467.5,222.5 463.8,217.5 465,207.5 470,200 471.2,191.2 477.5,190 485,185 495,180 505,177.5 515,175 525,172.5 530,170 532.5,162.5 540,157.5 545,150 550,140 547.5,132.5 555,127.5 557.5,117.5 562.5,110 560,102.5 570,97.5 580,87.5 587.5,80 595,72.5 602.5,67.5 610,62.5 617.5,57.5 625,52.5 627.5,42.5 631.2,35 640,33.8 647.5,35 655,33.8 660,31.2 662.5,26.2 667.5,25 665,28.8 660,33.8 655,40 652.5,46.2 647.5,51.2 642.5,60 637.5,67.5 630,75 622.5,82.5 617.5,90 612.5,97.5 607.5,105 602.5,112.5 597.5,120 595,127.5 592.5,135 590,145 585,142.5 580,150 575,157.5 570,162.5 565,170 560,177.5 555,182.5 540,183.8 532.5,180 525,180 520,185 515,192.5 510,200 507.5,207.5 505,215 502.5,222.5 500,230 497.5,235 490,242.5 480,247.5 475,252.5 482.5,247.5 477.5,252.5Z"/>
<path fill="#2166AC" d="M703.8,17 735,17 742.5,25 750,30 760,33.8 762.5,38.8 772.5,41.2 782.5,45 787.5,40 795,42 802.5,43.8 802.5,48.8 815,52.5 827.5,54.5 842.5,56.2 855,61.2 865,67.5 875,72.5 885,76.2 892.5,80 901.2,82.5 902.5,90 906.2,95 905,101.2 900,106.2 890,107 877.5,108 865,107.5 855,106.2 847.5,106.2 840,102.5 832.5,97.5 828.8,92.5 825,97.5 820,100 818.8,93.8 822.5,87.5 826.2,83.8 821.2,82.5 817.5,77.5 812.5,83.8 810,77.5 805,67.5 801.2,58.8 798.8,67.5 792.5,72.5 785,77.5 777.5,81.2 770,76.2 762.5,72.5 757.5,68.8 752.5,63.8 745,58.8 737.5,51.2 730,43.8 722.5,37.5 715,32.5 708.8,28.8 703.8,23.8Z"/>
<path fill="#2166AC" d="M929.5,65 935,66.2 942.5,68 951.5,68 951.5,106.2 945,108.8 940,112.5 938.8,107.5 942.5,102.5 943.8,96.2 937.5,93.8 936.2,88.8 940,82.5 941.2,75 935,70Z"/>
<path fill="#2166AC" d="M912.5,111.2 917.5,107.5 927.5,108.8 935,111.2 932.5,113.8 922.5,114.5 916.2,113Z"/>
<path fill="#2166AC" d="M122.7,145.2 126.5,142.9 128.8,138.3 129.6,133.7 133.4,132.9 137.2,134.4 140.3,131.4 138.8,127.6 141.8,128.3 144.9,130.6 145.6,126 143.4,119.9 144.9,116.1 147.9,116.8 149.5,114.5 151.8,115.3 152.5,119.9 154.8,123 157.1,119.1 158.7,116.1 161,116.8 161.7,121.4 164,119.9 164.8,124.5 167.1,126.8 167.8,131.4 170.9,129.8 175.5,128.3 177,124.5 174,121.4 174.7,118.4 178.6,119.1 181.6,114.5 186.2,113.8 192.3,115.3 196.9,118.4 198.5,123 201.5,126 203,128.3 200.8,132.9 198.5,136.7 195.4,139 192.3,143.6 188.5,145.9 183.1,150.5 178.6,154.3 174,152.8 167.8,153.6 163.2,152.8 159.4,151.3 156.4,152 155.6,147.5 154.1,143.6 149.5,144.4 145.6,145.9 143.4,149 140.3,149.7 139.5,146.7 141.8,144.4 137.2,143.6 132.6,145.2 128,145.9 125,146.7Z"/>
<path fill="#2166AC" d="M89,117.6 91.3,113.8 95.1,114.5 97.4,111.5 96.7,108.4 100.5,107.7 104.3,108.4 106.6,112.2 110.4,113 112.7,116.8 116.6,117.6 118.1,119.9 114.3,121.4 112,123 106.6,122.2 103.6,123 99,123 95.9,120.7 92.1,119.9 89.8,120.7 86.7,123 84.4,122.2 87.5,119.9Z"/>
<path fill="#2166AC" d="M139.5,157.4 144.9,155.1 150.2,157.4 144.9,158.9 147.9,160.5 148.7,163.5 143.4,164.3 139.5,162.8Z"/>
<path fill="#2166AC" d="M201.5,135.2 206.1,132.1 209.2,128.3 210.7,130.6 207.6,135.2 203,138.3Z"/>
<path fill="#2166AC" d="M106.6,130.6 112,129.8 112.7,132.1 107.4,132.9Z"/>
<path fill="#2166AC" d="M125,125.3 128,124.5 128.8,128.3 125.7,129.1Z"/>
<path fill="#2166AC" d="M130.3,128.3 132.9,129.8 134.2,132.5 131.4,131.8Z"/>
<path fill="#2166AC" d="M114.3,136 119.6,134.4 120.4,136.7 115,138.3Z"/>
<path fill="#2166AC" d="M136.5,119.9 138.8,119.1 139.5,123 137.2,123.7Z"/>
<path fill="#2166AC" d="M169.4,115.3 171.7,114.5 172.4,117.6 170,118.1Z"/>
<path fill="#2166AC" d="M519.3,488.3 523.1,485.3 526.2,483 526.9,486.8 524.6,490.6 520.8,492.1Z"/>
<path fill="#2166AC" d="M509.3,492.9 513.2,488.3 516.2,485.3 517.8,486.8 513.9,491.4 510.9,495.2Z"/>
<path fill="#2166AC" d="M534.6,486 540,483 545.3,482.2 546.8,484.5 542.2,486 536.9,488.3Z"/>
<path fill="#2166AC" d="M548.4,485.3 553,484.5 555.3,486.8 550.7,488.3Z"/>
<path fill="#2166AC" d="M489.4,497.5 494.8,493.7 500.9,491.4 502.5,492.9 496.3,496 491,499.8Z"/>
<path fill="#2166AC" d="M498.6,494.4 504,492.9 507.8,496 505.5,497.5 500.9,496.7Z"/>
<path fill="#2166AC" d="M471.8,507.5 475.7,504.4 480.3,501.3 481.8,502.9 477.2,506.7 473.4,509.7Z"/>
<path fill="#2166AC" d="M471.8,516.6 475.7,512.8 478,514.3 474.1,518.9 472.1,520.5Z"/>
<path fill="#2166AC" d="M464.9,525.8 468,523.5 469.5,527.4 466.5,529.6Z"/>
<path fill="#2166AC" d="M471.1,529.6 474.1,528.1 475.7,531.9 472.6,533.5Z"/>
<path fill="#2166AC" d="M517,496.7 520.8,494.4 522.4,497.5 518.5,499.8Z"/>
<path fill="#2166AC" d="M479.5,499 483.3,498 484.1,500.1 480.3,501.3Z"/>
<path fill="#2166AC" d="M634.2,441.6 640.8,441.6 640.8,444.2 637.7,443.4 634.2,443.7Z"/>
<path fill="#2166AC" d="M597.3,423.4 600.1,422.2 603,426 602.5,428.6 600.8,426 597.8,425.7Z"/>
<path fill="#2166AC" d="M694.8,474.2 696.9,474.2 696.9,476 694.8,476Z"/>
<path fill="#FFFFFF" d="M717.5,19.5 726.2,18.5 727.5,22.5 722.5,28.8 719.5,25Z"/>
<path fill="#FFFFFF" d="M573.8,71.2 580,68 590,62 592.5,63.8 585,70 577.5,75.5 572.5,77Z"/>
<path fill="#BBDAEA" d="M366.2,582.5 370,581.2 372.5,587.5 380,587.5 385,585 395,586.2 400,590 397.5,597.5 392.5,602.5 385,601.2 380,597.5 375,595 370,595 367.5,590Z"/>
<path fill="#BBDAEA" d="M442.5,540 446.2,535 448,545 446.2,555 442.5,558 438.8,552.5Z"/>
<path fill="#BBDAEA" d="M490,515 482.5,518.8 479.5,525 480.5,532.5 490,537.5Z"/>
<path fill="#BBDAEA" d="M610.2,542.4 612.6,541.4 615.7,550.6 613.3,551.5Z"/>
<path fill="#BBDAEA" d="M645.1,587.4 646.4,587 647.9,600.2 646.6,600.6Z"/>
<path fill="#BBDAEA" d="M637.8,545.1 639.6,544.7 642,554.3 640.2,554.7Z"/>
<path fill="#FFFFFF" d="M449.8,372 454.7,369.6 456.5,374.5 453,379.4 450.6,377.8Z"/>
<path fill="#F9C6AE" d="M99,115.3 104.3,114.5 105.1,118.4 100.5,119.1Z"/>
<path fill="#BBDAEA" d="M163.2,145.9 166.3,142.9 169.4,141.3 175.5,142.9 181.6,143.6 186.2,145.2 190,145.9 186.2,148.2 181.6,149.7 178.6,152 177,155.9 174.7,152 170.9,149 166.3,149Z"/>
<path fill="#BBDAEA" d="M147.6,139.5 151.8,139 151.3,141 147.9,141.3Z"/>
<path fill="#F9C6AE" d="M557.5,115 565,108.8 567.5,110 561.2,117.5Z"/>
<path fill="#F9C6AE" d="M553.8,127.5 570,112.5 572.5,114.5 557.5,130Z"/>
<path fill="#F9C6AE" d="M550,140 565,127.5 580,115 581.5,117.5 567.5,130 552.5,142.5Z"/>
<path fill="#F9C6AE" d="M547.5,150 560,140 575,127.5 577,130 562.5,142.5 550,153Z"/>
<path fill="#F9C6AE" d="M545,160 557.5,150 572.5,140 574,142.5 560,152.5 547.5,163Z"/>
<path fill="#F9C6AE" d="M535,170 547.5,162.5 557.5,156.2 558.5,158.8 548.8,165 537.5,172.5Z"/>
<path fill="#F9C6AE" d="M570,150 578.8,140 580.5,142 572.5,152Z"/>
<path fill="#F9C6AE" d="M475,200.5 490,191 505,183.5 505.8,184.8 490.8,192.5 476,202Z"/>
<path fill="#F9C6AE" d="M472.5,213 485,204.5 500,196 500.8,197.2 485.8,206 473.5,214.5Z"/>
<path fill="#F9C6AE" d="M477.5,223 490,214.5 502.5,208.2 503.2,209.5 490.8,216 478.5,224.5Z"/>
<path fill="#F9C6AE" d="M590,92.5 600,82.5 601.5,84.5 592,94.5Z"/>
<path fill="#F9C6AE" d="M600,77.5 612.5,66.2 614,68.2 602,79.5Z"/>
<path fill="#2166AC" d="M545,127.5 550,122.5 551.5,124.5 547,129.5Z"/>
<path fill="#2166AC" d="M540,150 546.2,143.8 548,145.5 542,152Z"/>
<path fill="#2166AC" d="M528.8,170 535,165 536.5,167 530.5,172Z"/>
<path fill="#2166AC" d="M515,170 522.5,166.2 523.5,168.2 516.5,172.5Z"/>
<path fill="#2166AC" d="M585,75 592.5,70 593.5,72 586.5,77Z"/>
<path fill="#2166AC" d="M610,57.5 617.5,53 618.5,55 611.5,59.5Z"/>
<path fill="#F9C6AE" d="M466.4,207.1 474.3,204.3 477.4,207.1 475.7,211.4 468.6,212.6Z"/>
<path fill="#BBDAEA" d="M524.6,492.9 527.7,489.8 531.5,490.6 530.8,495.2 527.7,499.8 525.4,498.3Z"/>
<path fill="#BBDAEA" d="M484.8,494.4 487.1,493.7 487.9,496 485.6,496.7Z"/>
<path fill="#B2182B" d="M500.9,504.4 507,502.9 513.2,505.9 507,506.7Z"/>
<path fill="#B2182B" d="M520.8,506.7 526.9,505.2 531.5,505.9 525.4,509Z"/>
<path fill="#B2182B" d="M540.7,476.8 546.8,476.1 548.4,478.4 542.2,479.1Z"/>
<path fill="#B2182B" d="M562.1,475.3 568.3,474.5 569.8,476.8 563.7,477.6Z"/>
<path fill="#B2182B" d="M556,490.6 562.1,489.1 565.2,491.4 559.1,492.9Z"/>
<path fill="#B2182B" d="M494.8,486.8 499.4,485.3 500.9,487.6 496.3,489.1Z"/>
<path fill="#FFFFFF" d="M447.3,368.3 453.1,365 461.2,361.8 469.4,359.3 476.7,356.9 476.7,358.2 469.4,360.8 461.2,363.4 453.9,366.7 448.2,370.2Z"/>
<path fill="#F9C6AE" d="M585.7,90 583.6,98.6 582.1,107.1 582.1,118.6 580,130 578.6,140 577.1,150 570,160 564.3,169.3 554.3,170 542.9,169.3 534.3,171.4 527.1,175.7 514.3,175.7 521.4,161.4 535.7,147.1 542.9,125.7 554.3,104.3 564.3,90Z"/>
<path fill="#2166AC" d="M558.6,104.3 564.3,101.4 570,98.6 574.3,100 580,98.6 582.9,107.1 577.1,108.6 571.4,107.1 567.1,105.7 562.9,107.1Z"/>
<path fill="#2166AC" d="M562.9,115.7 568.6,111.4 574.3,107.9 580,110 582.6,118.6 577.1,120 571.4,117.1 567.1,118.6Z"/>
<path fill="#2166AC" d="M557.1,121.4 561.4,120.7 562.9,123.6 558.6,124.3Z"/>
<path fill="#2166AC" d="M557.1,132.9 561.4,127.1 567.1,122.9 574.3,124.3 580.7,125.7 580.3,131.4 574.3,132.9 568.6,134.3 562.9,137.1 558.6,138.6Z"/>
<path fill="#2166AC" d="M545.7,137.1 549.3,131.4 551.4,128.6 552.9,131.4 550,135.7 547.1,139.3Z"/>
<path fill="#2166AC" d="M550,145.7 555.7,142.9 557.1,145.7 562.9,142.9 568.6,140 574.3,138.6 578.9,140 577.9,147.1 572.9,150 567.1,148.6 561.4,150 557.1,152.9 552.9,150Z"/>
<path fill="#2166AC" d="M548.6,157.1 554.3,152.9 560,154.3 565.7,157.1 570.3,160 564.3,161.4 557.1,160 551.4,160.7Z"/>
<path fill="#2166AC" d="M541.4,155.7 545.7,152.9 547.1,157.1 544.3,160Z"/>
<path fill="#2166AC" d="M537.1,165.7 542.9,162.9 548.6,165 542.9,168.6 537.9,169.3Z"/>
<path fill="#2166AC" d="M530,170 534.3,167.1 535.7,171.4 531.4,174.3Z"/>
<path fill="#2166AC" d="M565,164.3 569.3,161.4 567.1,167.9 564.6,168.9Z"/>
<path fill="#F9C6AE" d="M564.3,131.4 571.4,127.4 572.1,128.6 565.1,132.6Z"/>
<path fill="#F9C6AE" d="M560,147.1 567.1,143.6 567.7,144.7 560.7,148.3Z"/>
<path fill="#F9C6AE" d="M567.1,112.9 574.3,110 574.9,111.1 567.7,114Z"/>
</g>
<g stroke="#000" stroke-width="1" fill="none">
<rect x="79.5" y="17.5" width="871" height="829"/>
<path d="M136.5,846.5v6M261.5,846.5v6M387.5,846.5v6M513.5,846.5v6M638.5,846.5v6M764.5,846.5v6M889.5,846.5v6"/>
<path d="M79.5,39.5h-6M79.5,234.5h-6M79.5,428.5h-6M79.5,623.5h-6M79.5,817.5h-6"/>
</g>
<g font-size="10px" text-anchor="middle" letter-spacing="0.12px">
<text x="136.5" y="866.6">20°W</text><text x="261.5" y="866.6">10°W</text><text x="387.5" y="866.6">0°</text><text x="513.2" y="866.6">10°E</text><text x="638.5" y="866.6">20°E</text><text x="764.5" y="866.6">30°E</text><text x="889.5" y="866.6">40°E</text>
</g>
<g font-size="10px" text-anchor="end" letter-spacing="0.12px">
<text x="68" y="43.5">70°N</text><text x="68" y="238.5">60°N</text><text x="68" y="433">50°N</text><text x="68" y="627.5">40°N</text><text x="68" y="822">30°N</text>
</g>
<text font-size="12.4px" text-anchor="middle" x="514.3" y="888">Longitude</text>
<text font-size="12.3px" text-anchor="middle" transform="translate(34,432.3) rotate(-90)">Latitude</text>
</svg>
</body></html>
